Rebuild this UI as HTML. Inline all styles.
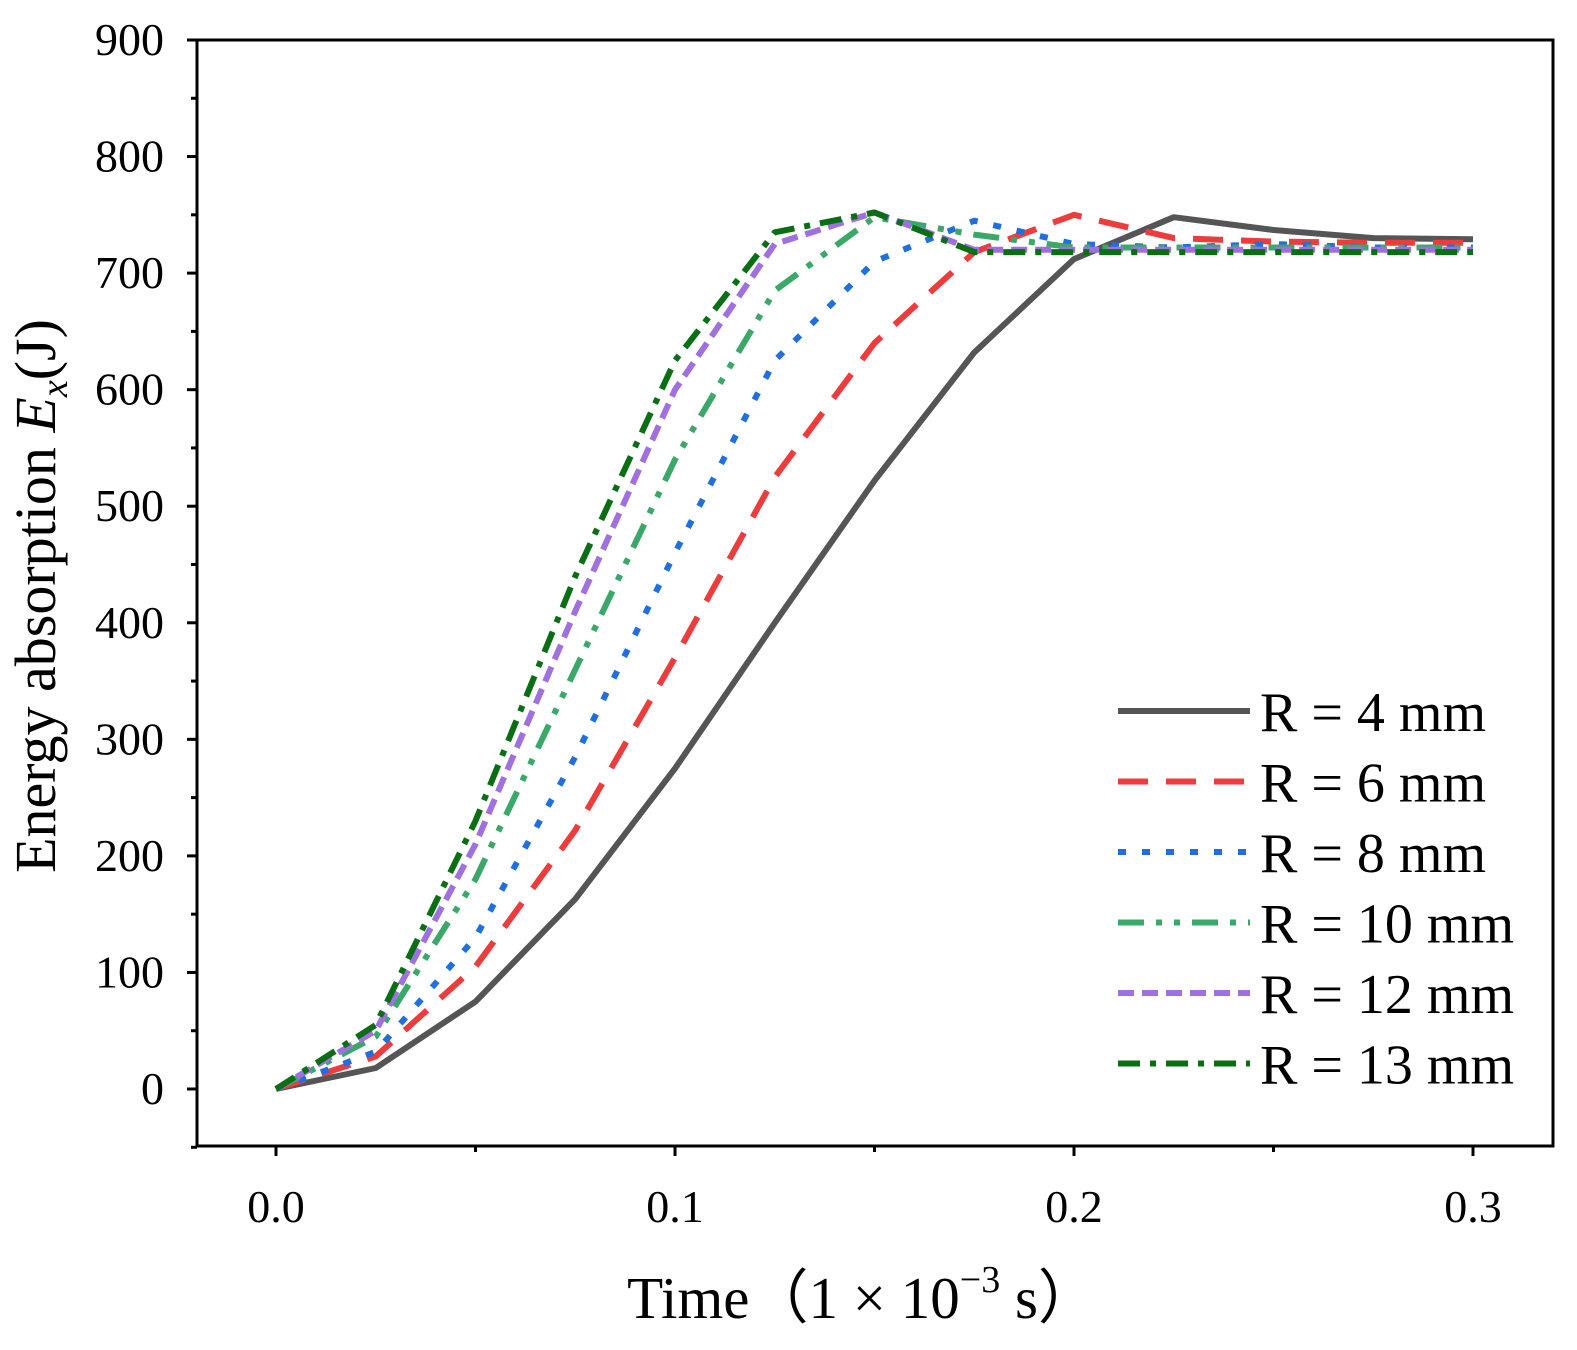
<!DOCTYPE html>
<html><head><meta charset="utf-8"><style>
html,body{margin:0;padding:0;background:#fff}
svg text{font-family:"Liberation Serif",serif;fill:#000}
</style></head><body>
<svg id="chart" width="1577" height="1345" viewBox="0 0 1577 1345">
<g id="axes"></g>
<g id="series"></g>
<g id="legend"></g>
<text x="55" y="596" font-size="58" text-anchor="middle" transform="rotate(-90 55 596)">Energy absorption <tspan font-style="italic">E</tspan><tspan font-style="italic" font-size="38" dy="12">x</tspan><tspan dy="-12">(J)</tspan></text>
<text x="862" y="1318" font-size="59" text-anchor="middle">Time（1 × 10<tspan font-size="38" dy="-26">−3</tspan><tspan dy="26"> s）</tspan></text>
</svg>
<script>
const times=[0,0.025,0.05,0.075,0.1,0.125,0.15,0.175,0.2,0.225,0.25,0.275,0.3];
const r4=[0,18,75,163,275,400,522,632,712,748,737,730,729];
const r6=[0,28,105,222,370,525,640,718,750,730,727,726,726];
const r8=[0,32,130,285,460,625,710,745,725,722,725,722,722];
const r10=[0,45,180,360,540,685,748,733,722,722,722,722,722];
const r12=[0,50,210,410,600,725,752,720,720,720,720,720,720];
const r13=[0,55,230,440,625,735,752,718,718,718,718,718,718];
const seriesNames=["R = 4 mm","R = 6 mm","R = 8 mm","R = 10 mm","R = 12 mm","R = 13 mm"];
const xTicks=[0,0.1,0.2,0.3];
const xTickLabels=["0.0","0.1","0.2","0.3"];
const yTicks=[0,100,200,300,400,500,600,700,800,900];
const NS="http://www.w3.org/2000/svg";
const L=197,R=1553,T=40,B=1146;
function xs(v){return 276+(v-0)*3990;}
function ys(v){return 1089-v*(1049/900);}
function mk(tag,attrs,parent){const e=document.createElementNS(NS,tag);for(const k in attrs)e.setAttribute(k,attrs[k]);parent.appendChild(e);return e;}
const ax=document.getElementById('axes');
const frame=mk('rect',{x:L,y:T,width:R-L,height:B-T,fill:'none',stroke:'#000','stroke-width':3},ax);


for(let v=-50;v<=900;v+=50){const major=v%100===0;const t=mk('line',{x1:L,x2:L-(major?10:6),y1:ys(v),y2:ys(v),stroke:'#000','stroke-width':3},ax);

}
yTicks.forEach(v=>{const t=mk('text',{x:L-33,y:ys(v)+15,'font-size':46,'text-anchor':'end'},ax);t.textContent=v;

});
for(let i=0;i<=6;i++){const v=i*0.05;const major=i%2===0;const t=mk('line',{x1:xs(v),x2:xs(v),y1:B,y2:B+(major?10:6),stroke:'#000','stroke-width':3},ax);

}
xTicks.forEach((v,i)=>{const t=mk('text',{x:xs(v),y:B+76,'font-size':46,'text-anchor':'middle'},ax);t.textContent=xTickLabels[i];

});
const styles=[
{c:'#555555',d:''},
{c:'#ee3b3b',d:'30 18'},
{c:'#1f6fe0',d:'8 16'},
{c:'#3aa868',d:'26 12 6 12 6 12'},
{c:'#a070e0',d:'16 8'},
{c:'#0a6e14',d:'22 10 6 10'}];
const data=[r4,r6,r8,r10,r12,r13];
const sg=document.getElementById('series');const lg=document.getElementById('legend');
data.forEach((arr,i)=>{const pts=arr.map((v,j)=>xs(times[j]).toFixed(1)+','+ys(v).toFixed(1)).join(' ');
const p=mk('polyline',{points:pts,fill:'none',stroke:styles[i].c,'stroke-width':6,'stroke-dasharray':styles[i].d,'stroke-linejoin':'round'},sg);


const y=711+i*70.5;
const g=mk('g',{},lg);


mk('line',{x1:1118,x2:1250,y1:y,y2:y,stroke:styles[i].c,'stroke-width':6,'stroke-dasharray':styles[i].d},g);
const t=mk('text',{x:1260,y:y+20,'font-size':56},g);t.textContent=seriesNames[i];});
</script>
</body></html>
